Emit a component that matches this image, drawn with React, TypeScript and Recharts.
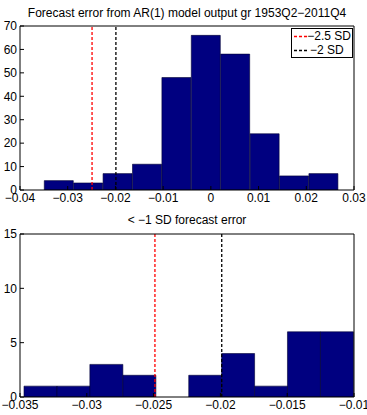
import { Bar, ComposedChart, ReferenceLine, XAxis, YAxis } from 'recharts'

// top panel: full sample histogram
const binCentersAll = [-0.03183, -0.02567, -0.01951, -0.01334, -0.00718, -0.00102, 0.00514, 0.01131, 0.01747, 0.02363]
const countsAll = [4, 3, 7, 11, 48, 66, 58, 24, 6, 7]
const xTicksAll = [-0.04, -0.03, -0.02, -0.01, 0, 0.01, 0.02, 0.03]
const yTicksAll = [0, 10, 20, 30, 40, 50, 60, 70]

// bottom panel: errors below -1 SD
const binCentersTail = [-0.03347, -0.031, -0.02854, -0.02607, -0.02361, -0.02114, -0.01868, -0.01621, -0.01375, -0.01128]
const countsTail = [1, 1, 3, 2, 0, 2, 4, 1, 6, 6]
const xTicksTail = [-0.035, -0.03, -0.025, -0.02, -0.015, -0.01]
const yTicksTail = [0, 5, 10, 15]

const sdLines = [
  { label: '\u22122.5 SD', value: -0.0249, color: '#ff0000' },
  { label: '\u22122 SD', value: -0.0199, color: '#000000' },
]

const FONT = '"Liberation Sans", Arial, sans-serif'
const tickStyle = { fill: '#000', fontSize: 12, fontFamily: FONT }
const fmt = (v: number) => (v === 0 ? '0' : String(v).replace('-', '\u2212'))

function LegendBox() {
  return (
    <div
      style={{
        position: 'absolute',
        left: 291,
        top: 28,
        border: '1px solid #000',
        background: '#fff',
        fontFamily: FONT,
        fontSize: 12,
        lineHeight: '14px',
        padding: '0px 1px 0px 1px',
        whiteSpace: 'nowrap',
        width: 58,
      }}
    >
      {sdLines.map((s) => (
        <div key={s.label} style={{ display: 'flex', alignItems: 'center', height: 14 }}>
          <svg width={17} height={14}>
            <line x1={1} x2={16} y1={7.5} y2={7.5} stroke={s.color} strokeWidth={1.3} strokeDasharray="3 2" />
          </svg>
          <span>{s.label}</span>
        </div>
      ))}
    </div>
  )
}

function Histogram({
  centers,
  counts,
  xTicks,
  yTicks,
  height,
  marginTop,
  xAxisHeight,
}: {
  centers: number[]
  counts: number[]
  xTicks: number[]
  yTicks: number[]
  height: number
  marginTop: number
  xAxisHeight: number
}) {
  const data = centers.map((c, i) => ({ x: c, n: counts[i] }))
  const xDomain: [number, number] = [xTicks[0], xTicks[xTicks.length - 1]]
  const yDomain: [number, number] = [yTicks[0], yTicks[yTicks.length - 1]]
  return (
    <ComposedChart
      width={367}
      height={height}
      data={data}
      margin={{ top: marginTop, right: 12, bottom: 0, left: 0 }}
      barCategoryGap={0}
      barGap={0}
    >
      <XAxis
        xAxisId="b"
        dataKey="x"
        type="number"
        domain={xDomain}
        ticks={xTicks}
        tickFormatter={fmt}
        height={xAxisHeight}
        tick={tickStyle}
        tickSize={-4}
        tickMargin={7}
        axisLine={{ stroke: '#000' }}
        tickLine={{ stroke: '#000' }}
        interval={0}
        allowDataOverflow
      />
      <XAxis
        xAxisId="t"
        orientation="top"
        type="number"
        domain={xDomain}
        ticks={xTicks}
        height={1}
        tick={false}
        tickSize={-4}
        axisLine={{ stroke: '#000' }}
        tickLine={{ stroke: '#000' }}
        interval={0}
        allowDataOverflow
      />
      <YAxis
        yAxisId="l"
        domain={yDomain}
        ticks={yTicks}
        width={20}
        tick={tickStyle}
        tickSize={-4}
        tickMargin={7}
        axisLine={{ stroke: '#000' }}
        tickLine={{ stroke: '#000' }}
        interval={0}
        allowDataOverflow
      />
      <YAxis
        yAxisId="r"
        orientation="right"
        domain={yDomain}
        ticks={yTicks}
        width={1}
        tick={false}
        tickSize={-4}
        axisLine={{ stroke: '#000' }}
        tickLine={{ stroke: '#000' }}
        interval={0}
        allowDataOverflow
      />
      {sdLines.map((s) => (
        <ReferenceLine
          key={s.label}
          xAxisId="b"
          yAxisId="l"
          x={s.value}
          stroke={s.color}
          strokeWidth={1.3}
          strokeDasharray="3 2"
        />
      ))}
      <Bar
        xAxisId="b"
        yAxisId="l"
        dataKey="n"
        fill="#000080"
        stroke="#000033"
        strokeWidth={0.6}
        isAnimationActive={false}
      />
    </ComposedChart>
  )
}

const titleStyle = {
  position: 'absolute' as const,
  left: 20,
  width: 334,
  textAlign: 'center' as const,
  fontFamily: FONT,
  fontSize: 12,
  color: '#000',
  whiteSpace: 'nowrap' as const,
}

export default function App() {
  return (
    <div style={{ position: 'absolute', left: 0, top: 0, width: 367, height: 415, background: '#fff' }}>
      <div style={{ ...titleStyle, top: 6 }}>Forecast error from AR(1) model output gr 1953Q2{'\u2212'}2011Q4</div>
      <div style={{ position: 'absolute', left: 0, top: 0 }}>
        <Histogram
          centers={binCentersAll}
          counts={countsAll}
          xTicks={xTicksAll}
          yTicks={yTicksAll}
          height={210}
          marginTop={25}
          xAxisHeight={20}
        />
      </div>
      <LegendBox />
      <div style={{ ...titleStyle, top: 213 }}>{'< \u22121 SD forecast error'}</div>
      <div style={{ position: 'absolute', left: 0, top: 210 }}>
        <Histogram
          centers={binCentersTail}
          counts={countsTail}
          xTicks={xTicksTail}
          yTicks={yTicksTail}
          height={205}
          marginTop={23}
          xAxisHeight={18}
        />
      </div>
    </div>
  )
}
